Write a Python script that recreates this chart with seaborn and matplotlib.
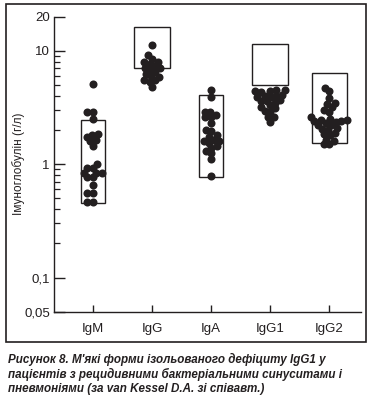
import numpy as np
import pandas as pd
import matplotlib
matplotlib.use("Agg")
import matplotlib.pyplot as plt
import matplotlib.patches as patches
from matplotlib.ticker import FixedLocator, NullFormatter
import seaborn as sns

######################################################################### data ##########################################################
classes = ["IgM", "IgG", "IgA", "IgG1", "IgG2"]
igm = [5.1, 2.9, 2.9, 2.5, 1.85, 1.8, 1.75, 1.65, 1.6, 1.45, 1.0, 0.92, 0.92, 0.84, 0.84, 0.84,
	0.77, 0.77, 0.65, 0.56, 0.56, 0.46, 0.46]
igg = [11.2, 9.2, 8.5, 8.0, 8.0, 7.7, 7.3, 7.0, 7.0, 6.8, 6.5, 6.2, 6.0, 5.9, 5.5, 5.5, 5.3, 4.8]
iga = [4.5, 3.9, 2.9, 2.9, 2.7, 2.6, 2.6, 2.3, 2.0, 1.95, 1.8, 1.75, 1.65, 1.6, 1.6, 1.55,
	1.45, 1.4, 1.3, 1.25, 1.1, 0.78]
igg1 = [4.5, 4.5, 4.4, 4.4, 4.3, 4.1, 4.0, 4.0, 3.9, 3.9, 3.7, 3.6, 3.6, 3.5, 3.3, 3.2, 3.1,
	2.95, 2.9, 2.6, 2.6, 2.35]
igg2 = [4.7, 4.4, 3.8, 3.5, 3.4, 3.2, 3.0, 2.9, 2.6, 2.5, 2.45, 2.45, 2.4, 2.4, 2.35, 2.3, 2.2,
	2.2, 2.1, 2.05, 2.0, 1.9, 1.85, 1.8, 1.65, 1.6, 1.5, 1.5]
# reference (normal) ranges, g/l
norm_low = [0.45, 7.0, 0.77, 4.95, 1.53]
norm_high = [2.45, 16.3, 4.1, 11.5, 6.4]
ytick_vals = [0.05, 0.1, 1, 10, 20]
ytick_labels = ["0,05", "0,1", "1", "10", "20"]
ylabel = "Імуноглобулін (г/л)"
caption = ("Рисунок 8. М'які форми ізольованого дефіциту IgG1 у\n"
	"пацієнтів з рецидивними бактеріальними синуситами і\n"
	"пневмоніями (за van Kessel D.A. зі співавт.)")

######################################################################### plot ##########################################################
def main():
	sns.set_style("white")
	plt.rcParams["font.family"] = ["Liberation Sans", "DejaVu Sans"]
	ink = "#231f20"

	rows = []
	for name, vals in zip(classes, [igm, igg, iga, igg1, igg2]):
		for v in vals:
			rows.append((name, v))
	df = pd.DataFrame(rows, columns=["Class", "Value"])

	fig = plt.figure(figsize=(3.70, 3.98), dpi=100)
	ax = fig.add_axes([0.146, 0.217, 0.830, 0.741])
	ax.set_yscale("log")

	# normal range boxes
	box_w = [0.41, 0.61, 0.41, 0.60, 0.60]
	for i, (lo, hi) in enumerate(zip(norm_low, norm_high)):
		ax.add_patch(patches.Rectangle((i - box_w[i] / 2, lo), box_w[i], hi - lo,
			fill=False, edgecolor=ink, linewidth=1.0, zorder=1))

	sns.swarmplot(data=df, x="Class", y="Value", order=classes, color=ink,
		size=3.9, linewidth=0, ax=ax, zorder=3, warn_thresh=1)

	ax.set_xlim(-0.66, 4.54)
	ax.set_ylim(0.05, 20)

	# swarm is laid out at draw time: do it once with small dots,
	# then freeze the positions and draw bigger dots so they overlap like the original
	fig.canvas.draw()
	for coll in ax.collections:
		if "draw" in coll.__dict__:
			del coll.draw
		coll.set_sizes([5.8 ** 2])

	ax.set_yticks(ytick_vals)
	ax.set_yticklabels(ytick_labels)
	ax.yaxis.set_minor_locator(FixedLocator([0.2, 0.3, 0.4, 0.5, 0.6, 0.7, 0.8, 0.9,
		2, 3, 4, 5, 6, 7, 8, 9]))
	ax.yaxis.set_minor_formatter(NullFormatter())
	ax.tick_params(axis="y", which="major", direction="in", length=8, width=1, colors=ink,
		labelsize=9.5, pad=3, left=True)
	ax.tick_params(axis="y", which="minor", direction="in", length=4.5, width=0.9, color=ink, left=True)
	ax.tick_params(axis="x", which="major", direction="in", length=5, width=1, colors=ink,
		labelsize=9.5, pad=8, bottom=True)
	ax.set_xlabel("")
	ax.set_ylabel(ylabel, fontsize=8.5, color=ink)
	ax.yaxis.set_label_coords(-0.095, 0.5)
	for s in ["top", "right"]:
		ax.spines[s].set_visible(False)
	for s in ["left", "bottom"]:
		ax.spines[s].set_color(ink)
		ax.spines[s].set_linewidth(1.0)
	ax.patch.set_alpha(0)

	# frame round the chart
	fig.patches.append(patches.Rectangle((0.0162, 0.1407), 0.9728, 0.8493, transform=fig.transFigure,
		fill=False, edgecolor=ink, linewidth=1.2))

	fig.text(0.022, 0.112, caption, ha="left", va="top", fontsize=8.4, fontweight="bold",
		fontstyle="italic", color=ink, linespacing=1.18)

	fig.savefig("out.png", dpi=100)
	plt.close(fig)

if __name__ == "__main__":
	main()
